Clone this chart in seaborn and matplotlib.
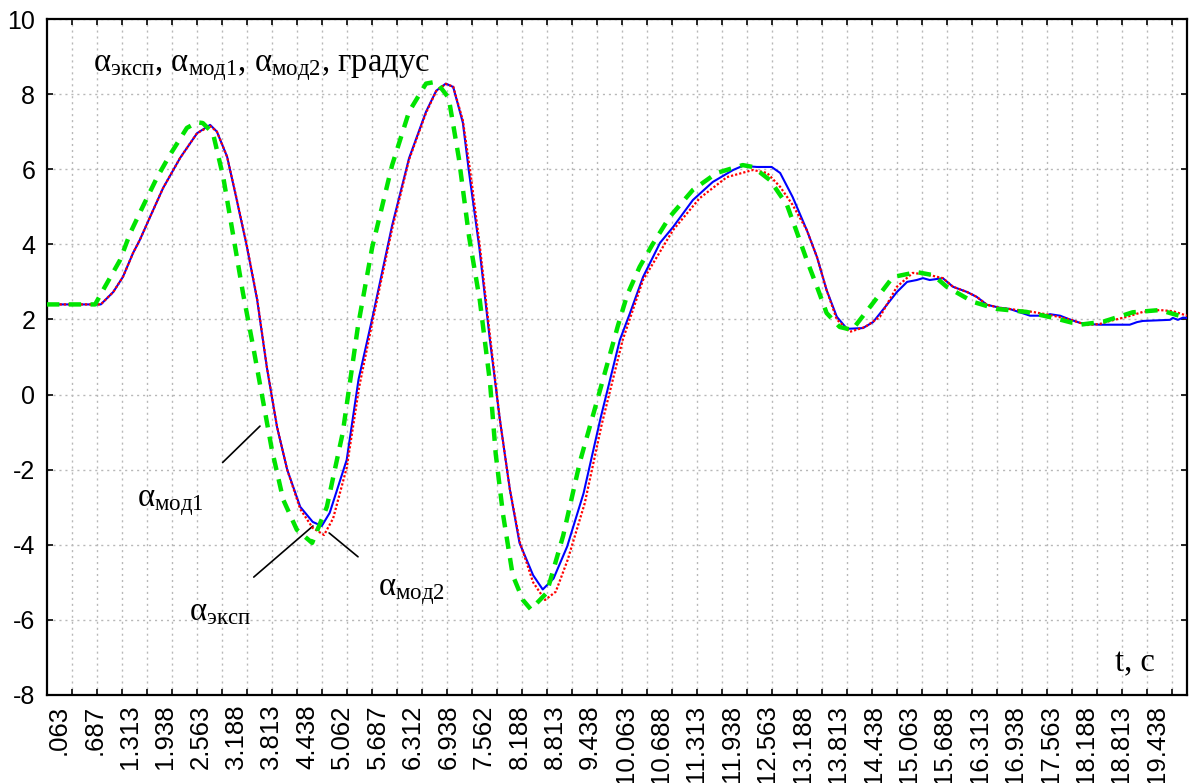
import numpy as np
import matplotlib
matplotlib.use("Agg")
import matplotlib.pyplot as plt
import seaborn as sns

sns.set_theme(style="white")
plt.rcParams['font.family'] = ['Liberation Sans', 'DejaVu Sans']
plt.rcParams['axes.unicode_minus'] = False
plt.rcParams['mathtext.fontset'] = 'custom'
plt.rcParams['mathtext.rm'] = 'Liberation Serif'
plt.rcParams['mathtext.it'] = 'Liberation Serif:italic'
plt.rcParams['mathtext.bf'] = 'Liberation Serif:bold'

# ---------------- data ----------------
t_exp = [-0.15, 0.80, 1.02, 1.19, 1.37, 1.49, 1.67, 1.90, 2.20, 2.50, 2.73, 2.85, 3.03, 3.20, 3.38,
         3.56, 3.73, 3.91, 4.09, 4.32, 4.54, 4.70, 4.84, 5.14, 5.35, 5.59, 5.94, 6.24, 6.54, 6.72,
         6.89, 7.02, 7.19, 7.30, 7.48, 7.66, 7.84, 8.02, 8.19, 8.43, 8.60, 8.79, 9.03, 9.32, 9.62,
         9.96, 10.14, 10.37, 10.67, 10.90, 11.25, 11.60, 11.96, 12.13, 12.38, 12.64, 12.79, 13.01,
         13.26, 13.44, 13.61, 13.79, 13.97, 14.25, 14.43, 14.60, 14.85, 15.03, 15.20, 15.31, 15.43,
         15.66, 15.84, 16.09, 16.26, 16.44, 16.67, 16.84, 17.20, 17.50, 17.55, 17.73, 17.90, 18.08,
         18.20, 18.43, 18.96, 19.09, 19.19, 19.67, 19.72, 19.81, 19.90, 19.97]
a_exp = [2.4, 2.4, 2.73, 3.13, 3.77, 4.12, 4.73, 5.5, 6.3, 6.96, 7.18, 7.0, 6.33, 5.18, 3.93,
         2.52, 0.73, -0.86, -2.0, -2.99, -3.39, -3.5, -3.15, -1.74, 0.41, 2.02, 4.49, 6.29, 7.53, 8.09,
         8.28, 8.19, 7.24, 5.91, 3.92, 1.55, -0.63, -2.53, -3.95, -4.81, -5.19, -4.9, -4.05, -2.63, -0.63,
         1.45, 2.17, 3.13, 4.04, 4.46, 5.18, 5.66, 5.98, 6.09, 6.06, 6.06, 5.9, 5.26,
         4.38, 3.66, 2.78, 2.07, 1.75, 1.77, 1.93, 2.25, 2.73, 3.0, 3.05, 3.1, 3.05,
         3.1, 2.87, 2.73, 2.6, 2.39, 2.31, 2.28, 2.1, 2.1, 2.14, 2.1, 2.0, 1.91,
         1.88, 1.86, 1.86, 1.93, 1.96, 1.99, 2.04, 1.99, 2.05, 2.04]

t_mod1 = [-0.15, 0.70, 0.84, 1.14, 1.32, 1.54, 1.79, 2.02, 2.32, 2.50, 2.60, 2.78, 2.96, 3.13, 3.31,
          3.49, 3.66, 3.82, 4.02, 4.26, 4.53, 4.79, 5.07, 5.34, 5.59, 5.94, 6.24, 6.54, 6.72, 6.94,
          7.12, 7.30, 7.49, 7.67, 7.77, 7.90, 8.07, 8.25, 8.39, 8.67, 8.96, 9.26, 9.56, 9.93, 10.09,
          10.31, 10.53, 10.84, 11.25, 11.67, 12.13, 12.31, 12.61, 12.91, 13.09, 13.26, 13.44, 13.61,
          13.84, 14.06, 14.43, 14.78, 15.20, 15.49, 15.73, 16.19, 16.61, 17.14, 17.59, 18.08, 18.49,
          19.01, 19.49, 19.90, 19.97]
a_mod1 = [2.4, 2.4, 2.78, 3.58, 4.3, 5.0, 5.77, 6.38, 7.1, 7.25, 7.23, 6.96, 5.8, 4.3, 2.7,
          1.27, -0.14, -1.47, -2.8, -3.6, -3.95, -2.99, -1.02, 1.83, 3.92, 6.1, 7.53, 8.28, 8.33, 7.9,
          6.29, 4.2, 2.5, 0.31, -1.58, -3.2, -4.81, -5.47, -5.72, -5.28, -3.76, -1.77, -0.16, 1.85, 2.65,
          3.4, 3.98, 4.73, 5.45, 5.9, 6.11, 6.06, 5.71, 5.05, 4.3, 3.58, 2.87, 2.17,
          1.8, 1.72, 2.44, 3.13, 3.26, 3.18, 2.87, 2.47, 2.28, 2.2, 2.05, 1.86, 1.94,
          2.19, 2.25, 2.07, 2.04]

t_mod2 = [-0.15, 0.80, 1.02, 1.19, 1.37, 1.49, 1.67, 1.90, 2.20, 2.50, 2.73, 2.85, 3.03, 3.20, 3.38,
          3.56, 3.73, 3.91, 4.09, 4.32, 4.54, 4.74, 4.90, 5.14, 5.36, 5.59, 5.94, 6.24, 6.54, 6.72,
          6.89, 7.02, 7.19, 7.32, 7.49, 7.67, 7.84, 8.02, 8.20, 8.43, 8.64, 8.83, 9.04, 9.34, 9.64,
          10.01, 10.37, 10.90, 11.37, 11.85, 12.31, 12.56, 12.79, 13.01, 13.26, 13.44, 13.61, 13.79,
          14.02, 14.29, 14.55, 14.85, 15.13, 15.43, 15.66, 15.84, 16.09, 16.26, 16.44, 16.67, 17.25,
          17.55, 17.90, 18.20, 18.43, 18.61, 18.91, 19.19, 19.49, 19.72, 19.97]
a_mod2 = [2.4, 2.4, 2.73, 3.13, 3.77, 4.12, 4.73, 5.5, 6.3, 6.96, 7.15, 7.0, 6.33, 5.2, 3.95,
          2.55, 0.75, -0.85, -2.0, -3.05, -3.55, -3.74, -3.3, -1.95, 0.2, 1.9, 4.4, 6.25, 7.5, 8.08,
          8.27, 8.2, 7.3, 5.95, 3.95, 1.55, -0.63, -2.53, -3.95, -5.0, -5.47, -5.25, -4.4, -2.9, -0.8,
          1.45, 3.05, 4.38, 5.23, 5.79, 5.98, 5.9, 5.53, 5.05, 4.38, 3.66, 2.78, 2.0,
          1.67, 1.8, 2.07, 2.87, 3.24, 3.18, 3.1, 2.87, 2.73, 2.6, 2.39, 2.31, 2.2,
          2.12, 2.0, 1.85, 1.88, 1.96, 2.07, 2.2, 2.25, 2.22, 2.1]

x_tick_labels = ['.063', '.687', '1.313', '1.938', '2.563', '3.188', '3.813', '4.438', '5.062',
                 '5.687', '6.312', '6.938', '7.562', '8.188', '8.813', '9.438', '10.063', '10.688',
                 '11.313', '11.938', '12.563', '13.188', '13.813', '14.438', '15.063', '15.688',
                 '16.313', '16.938', '17.563', '18.188', '18.813', '19.438']
y_ticks = [-8, -6, -4, -2, 0, 2, 4, 6, 8, 10]

title_text = 'α$_\\mathrm{эксп}$, α$_\\mathrm{мод1}$, α$_\\mathrm{мод2}$, градус'
xlabel_text = 't, с'
lab_exp = 'α$_\\mathrm{эксп}$'
lab_mod1 = 'α$_\\mathrm{мод1}$'
lab_mod2 = 'α$_\\mathrm{мод2}$'

# ---------------- figure ----------------
fig = plt.figure(figsize=(11.89, 7.83), dpi=100)
ax = fig.add_axes([47 / 1189, 88 / 783, 1140 / 1189, 676 / 783])

sns.lineplot(x=t_exp, y=a_exp, ax=ax, color='#0000ff', lw=1.5, errorbar=None, sort=False, zorder=3)
sns.lineplot(x=t_mod2, y=a_mod2, ax=ax, color='#ff0000', lw=1.6, linestyle=(0, (1.0, 0.9)),
             errorbar=None, sort=False, zorder=4)
sns.lineplot(x=t_mod1, y=a_mod1, ax=ax, color='#00e400', lw=3.2, linestyle=(0, (2.8, 2.1)),
             errorbar=None, sort=False, zorder=5)

ax.set_xlim(-0.149, 19.97)
ax.set_ylim(-8, 10)

x_tick_pos = [float(s) for s in x_tick_labels]
ax.set_xticks(x_tick_pos)
ax.set_xticklabels(x_tick_labels, rotation=90)
minor_pos = 0.2919 + 0.44115 * np.arange(45)
ax.set_xticks(minor_pos, minor=True)
ax.set_yticks(y_ticks)
ax.set_yticklabels([str(v) for v in y_ticks])

ax.tick_params(axis='x', which='major', length=0, pad=7, labelsize=18.5, bottom=True, colors='black')
ax.tick_params(axis='x', which='minor', direction='in', length=4, width=1.2,
               top=True, bottom=True, color='black')
ax.tick_params(axis='y', which='major', direction='in', length=4, width=1.2,
               left=True, right=True, labelsize=18, pad=8.5, color='black', labelcolor='black')

ax.grid(False)
grid_kw = dict(linestyle=(0, (1.5, 2.8)), color='#b8b8b8', linewidth=1.0)
ax.grid(True, axis='x', which='minor', **grid_kw)
ax.grid(True, axis='y', which='major', **grid_kw)
ax.set_axisbelow(True)

for sp in ax.spines.values():
    sp.set_visible(True)
    sp.set_color('black')
    sp.set_linewidth(1.6)

serif = ['Liberation Serif', 'DejaVu Serif']
fs = 23.5
ax.text(0.662, 8.62, title_text, fontsize=fs, family=serif, ha='left', va='baseline', color='black')
ax.text(18.70, -7.36, xlabel_text, fontsize=fs, family=serif, ha='left', va='baseline', color='black')

ax.text(1.44, -2.97, lab_mod1, fontsize=fs, family=serif, ha='left', va='baseline', color='black')
ax.text(2.36, -6.0, lab_exp, fontsize=fs, family=serif, ha='left', va='baseline', color='black')
ax.text(5.69, -5.35, lab_mod2, fontsize=fs, family=serif, ha='left', va='baseline', color='black')

line_kw = dict(arrowprops=dict(arrowstyle='-', color='black', lw=1.2, shrinkA=0, shrinkB=0))
ax.annotate('', xy=(3.61, -0.84), xytext=(2.95, -1.81), **line_kw)
ax.annotate('', xy=(4.545, -3.50), xytext=(3.50, -4.86), **line_kw)
ax.annotate('', xy=(4.83, -3.685), xytext=(5.34, -4.32), **line_kw)

ax.set_xlabel('')
ax.set_ylabel('')

fig.savefig('out.png', dpi=100)
